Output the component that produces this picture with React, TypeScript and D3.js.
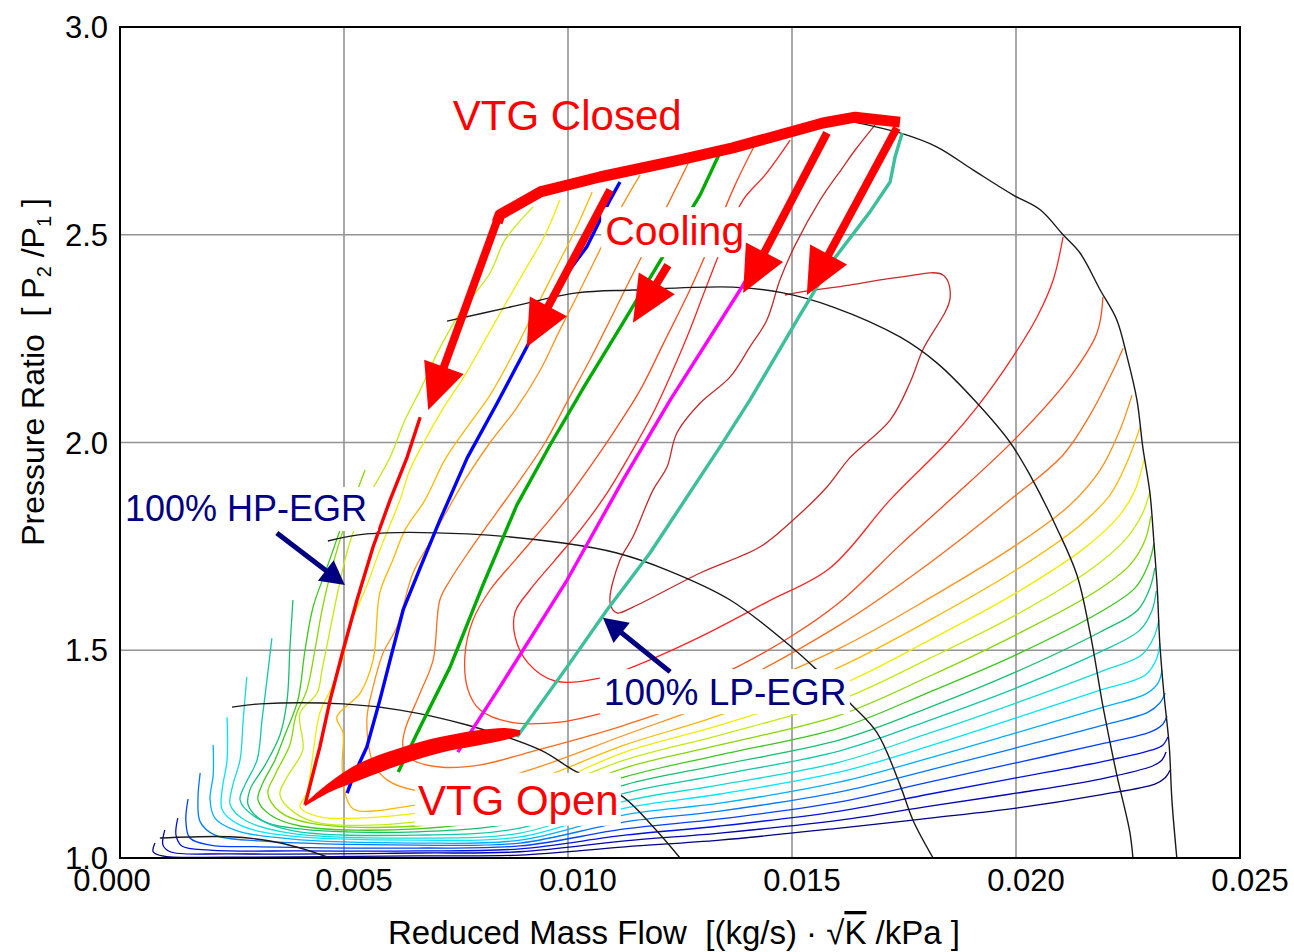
import * as d3 from "d3";

// axis ticks
const X_TICKS = [0, 0.005, 0.01, 0.015, 0.02, 0.025];
const X_LABELS = ["0.000", "0.005", "0.010", "0.015", "0.020", "0.025"];
const Y_TICKS = [1.0, 1.5, 2.0, 2.5, 3.0];
const Y_LABELS = ["1.0", "1.5", "2.0", "2.5", "3.0"];
const X_GRID = [0.005, 0.01, 0.015, 0.02];
const Y_GRID = [1.5, 2.0, 2.5];

// efficiency contours, innermost island first, [mass flow, pressure ratio]
const ETA_01 = [[0.01685,2.764],[0.01641,2.704],[0.01614,2.663],[0.01563,2.584],[0.01507,2.475],[0.01473,2.391],[0.01444,2.295],[0.01406,2.230],[0.01362,2.158],[0.01295,2.095],[0.01243,2.023],[0.01221,1.941],[0.0119,1.886],[0.01145,1.773],[0.01116,1.717],[0.01094,1.614],[0.01109,1.59],[0.01145,1.604],[0.01295,1.686],[0.01429,1.749],[0.01502,1.813],[0.01578,1.893],[0.01629,1.963],[0.01719,2.054],[0.01763,2.143],[0.01792,2.223],[0.01853,2.348],[0.01837,2.403],[0.01741,2.398],[0.01629,2.379],[0.01518,2.362],[0.01484,2.355]];
const ETA_02 = [[0.01496,2.728],[0.0144,2.644],[0.01391,2.584],[0.0135,2.487],[0.01306,2.367],[0.01272,2.271],[0.01234,2.174],[0.0119,2.071],[0.01138,1.97],[0.01087,1.878],[0.01027,1.789],[0.00971,1.717],[0.00915,1.645],[0.00882,1.592],[0.00882,1.532],[0.00911,1.469],[0.00971,1.426],[0.01071,1.433],[0.01183,1.477],[0.01295,1.532],[0.01444,1.616],[0.01585,1.698],[0.01719,1.862],[0.01846,2.0],[0.01913,2.085],[0.01993,2.206],[0.02047,2.302],[0.02083,2.391],[0.02105,2.495]];
const ETA_03 = [[0.01417,2.716],[0.01373,2.62],[0.01321,2.487],[0.01272,2.367],[0.01217,2.247],[0.01161,2.126],[0.01105,2.03],[0.0106,1.958],[0.01004,1.874],[0.00949,1.801],[0.00882,1.717],[0.00826,1.645],[0.00788,1.573],[0.0077,1.489],[0.00777,1.404],[0.00804,1.356],[0.00871,1.327],[0.00982,1.327],[0.01071,1.347],[0.01183,1.38],[0.01339,1.44],[0.01496,1.532],[0.01607,1.616],[0.01741,1.753],[0.01853,1.862],[0.02002,2.013],[0.02121,2.158],[0.02181,2.264],[0.02194,2.35]];
const ETA_04 = [[0.01272,2.68],[0.01228,2.584],[0.01183,2.487],[0.01138,2.391],[0.01094,2.295],[0.01049,2.199],[0.01,2.102],[0.00949,2.0],[0.00893,1.91],[0.00837,1.826],[0.00781,1.741],[0.00737,1.669],[0.00714,1.621],[0.00699,1.477],[0.0067,1.397],[0.00636,1.308],[0.00632,1.267],[0.00654,1.236],[0.00714,1.219],[0.00804,1.224],[0.00915,1.255],[0.01127,1.32],[0.01339,1.404],[0.01607,1.561],[0.01786,1.693],[0.01987,1.862],[0.02105,1.97],[0.02165,2.066],[0.02217,2.174],[0.02239,2.227]];
const ETA_05 = [[0.01161,2.644],[0.01116,2.56],[0.01071,2.463],[0.01027,2.367],[0.00982,2.271],[0.00938,2.174],[0.00882,2.078],[0.00826,2.0],[0.0077,1.91],[0.00725,1.826],[0.00688,1.753],[0.00654,1.686],[0.00618,1.556],[0.00587,1.493],[0.00565,1.412],[0.00551,1.332],[0.00565,1.229],[0.00596,1.188],[0.00654,1.164],[0.00737,1.161],[0.00915,1.212],[0.01127,1.296],[0.01339,1.38],[0.01607,1.505],[0.01808,1.626],[0.02,1.753],[0.02121,1.85],[0.02188,1.934],[0.02232,2.03],[0.02259,2.114]];
const ETA_06 = [[0.01054,2.603],[0.01016,2.511],[0.00971,2.415],[0.00926,2.319],[0.00882,2.223],[0.00826,2.114],[0.0077,2.03],[0.00725,1.958],[0.00681,1.862],[0.00636,1.789],[0.00609,1.717],[0.0058,1.638],[0.00565,1.477],[0.00536,1.397],[0.00484,1.339],[0.00498,1.301],[0.00496,1.219],[0.00507,1.14],[0.00525,1.116],[0.00663,1.128],[0.00893,1.176],[0.01127,1.272],[0.01339,1.344],[0.01607,1.46],[0.01808,1.573],[0.02,1.693],[0.02143,1.801],[0.0221,1.874],[0.0225,1.958],[0.02277,2.037]];
const ETA_07 = [[0.00982,2.584],[0.00949,2.5],[0.00904,2.415],[0.00859,2.331],[0.00815,2.247],[0.0077,2.162],[0.00719,2.078],[0.00681,2.006],[0.00647,1.934],[0.00625,1.862],[0.0058,1.741],[0.00547,1.645],[0.00518,1.573],[0.00496,1.477],[0.00475,1.416],[0.00446,1.349],[0.00429,1.236],[0.00417,1.156],[0.00402,1.123],[0.00446,1.099],[0.00525,1.096],[0.00663,1.108],[0.00893,1.152],[0.01127,1.255],[0.01339,1.32],[0.01607,1.416],[0.01808,1.525],[0.02,1.638],[0.02154,1.747],[0.02232,1.826],[0.02266,1.886],[0.02286,1.96]];
const ETA_08 = [[0.00922,2.567],[0.00859,2.487],[0.00826,2.408],[0.00759,2.312],[0.00708,2.215],[0.0067,2.126],[0.00636,2.054],[0.00603,1.965],[0.00551,1.862],[0.0052,1.782],[0.00502,1.717],[0.00487,1.645],[0.00469,1.549],[0.00451,1.452],[0.0044,1.397],[0.00402,1.349],[0.00408,1.26],[0.00373,1.195],[0.00357,1.152],[0.00391,1.108],[0.00446,1.084],[0.00663,1.087],[0.00893,1.14],[0.01127,1.236],[0.01339,1.296],[0.01607,1.38],[0.01808,1.481],[0.02,1.585],[0.02165,1.693],[0.02243,1.765],[0.02281,1.826],[0.02299,1.883]];
const ETA_09 = [[0.00547,1.934],[0.00518,1.85],[0.00491,1.765],[0.00469,1.681],[0.00451,1.597],[0.00435,1.5],[0.00417,1.404],[0.00393,1.344],[0.00379,1.272],[0.00346,1.2],[0.0033,1.156],[0.00357,1.111],[0.00424,1.084],[0.00663,1.077],[0.00893,1.12],[0.01127,1.217],[0.01339,1.272],[0.01607,1.344],[0.01808,1.438],[0.02,1.537],[0.02176,1.64],[0.02254,1.705],[0.02288,1.765],[0.02301,1.823]];
const ETA_10 = [[0.00491,1.789],[0.0046,1.693],[0.00431,1.604],[0.00413,1.5],[0.00397,1.38],[0.00368,1.296],[0.00346,1.236],[0.00317,1.176],[0.00308,1.14],[0.00335,1.104],[0.00402,1.077],[0.00663,1.07],[0.00893,1.104],[0.01127,1.195],[0.01339,1.248],[0.01607,1.313],[0.01808,1.4],[0.02,1.489],[0.02188,1.592],[0.02266,1.65],[0.02295,1.705],[0.02308,1.758]];
const ETA_11 = [[0.00386,1.621],[0.00379,1.5],[0.00373,1.38],[0.00357,1.296],[0.00324,1.224],[0.0029,1.164],[0.00286,1.128],[0.00317,1.091],[0.00402,1.07],[0.00663,1.063],[0.00893,1.087],[0.01127,1.176],[0.01339,1.224],[0.01607,1.284],[0.01808,1.363],[0.02,1.448],[0.02188,1.544],[0.02272,1.597],[0.02299,1.65],[0.0231,1.698]];
const ETA_12 = [[0.00339,1.529],[0.00328,1.428],[0.00317,1.332],[0.00306,1.236],[0.00279,1.176],[0.00268,1.14],[0.00295,1.104],[0.00379,1.067],[0.00663,1.055],[0.00893,1.072],[0.01127,1.156],[0.01339,1.2],[0.01607,1.258],[0.01808,1.332],[0.02,1.409],[0.02188,1.496],[0.02277,1.549],[0.02304,1.597],[0.02313,1.643]];
const ETA_13 = [[0.00283,1.436],[0.00275,1.332],[0.00268,1.236],[0.00252,1.176],[0.00246,1.128],[0.00279,1.091],[0.00379,1.06],[0.00663,1.048],[0.00893,1.06],[0.01127,1.137],[0.01339,1.176],[0.01607,1.231],[0.01808,1.301],[0.02,1.373],[0.02188,1.448],[0.02281,1.489],[0.02308,1.532],[0.02319,1.573]];
const ETA_14 = [[0.00239,1.339],[0.00239,1.236],[0.00228,1.164],[0.00228,1.116],[0.00268,1.079],[0.00379,1.053],[0.00663,1.043],[0.00893,1.051],[0.01127,1.12],[0.01339,1.154],[0.01607,1.207],[0.01808,1.27],[0.02,1.337],[0.02188,1.404],[0.02288,1.44],[0.02313,1.477],[0.02321,1.517]];
const ETA_15 = [[0.00208,1.272],[0.00208,1.2],[0.00201,1.14],[0.00212,1.096],[0.00257,1.067],[0.00379,1.046],[0.00663,1.036],[0.00893,1.043],[0.01127,1.104],[0.01339,1.132],[0.01607,1.183],[0.01808,1.241],[0.02,1.301],[0.02188,1.361],[0.0229,1.395],[0.02317,1.421],[0.02326,1.452]];
const ETA_16 = [[0.00179,1.205],[0.00174,1.14],[0.00179,1.087],[0.00212,1.055],[0.00313,1.041],[0.00663,1.031],[0.00893,1.036],[0.01127,1.087],[0.01339,1.113],[0.01607,1.159],[0.01808,1.212],[0.02,1.265],[0.02188,1.318],[0.02295,1.351],[0.02321,1.373],[0.02333,1.397]];
const ETA_17 = [[0.00152,1.142],[0.00147,1.091],[0.00156,1.048],[0.00201,1.031],[0.00313,1.027],[0.00663,1.024],[0.00893,1.029],[0.01127,1.07],[0.01339,1.094],[0.01607,1.135],[0.01808,1.183],[0.02,1.229],[0.02188,1.274],[0.02299,1.303],[0.02326,1.32],[0.02337,1.342]];
const ETA_18 = [[0.00129,1.096],[0.00125,1.055],[0.00138,1.029],[0.00201,1.019],[0.00402,1.017],[0.00663,1.017],[0.00893,1.022],[0.01127,1.055],[0.01339,1.077],[0.01607,1.113],[0.01808,1.154],[0.02,1.193],[0.02188,1.231],[0.02304,1.26],[0.02328,1.272],[0.02339,1.291]];
const ETA_19 = [[0.001,1.067],[0.00096,1.031],[0.00112,1.015],[0.00246,1.01],[0.00663,1.012],[0.00893,1.015],[0.01127,1.041],[0.01339,1.06],[0.01607,1.091],[0.01808,1.125],[0.02,1.156],[0.02188,1.19],[0.02306,1.222],[0.02326,1.236],[0.02335,1.255]];
const ETA_20 = [[0.00078,1.036],[0.00074,1.015],[0.00094,1.005],[0.00246,1.002],[0.00663,1.005],[0.00893,1.007],[0.01127,1.027],[0.01339,1.043],[0.01607,1.072],[0.01808,1.096],[0.02,1.12],[0.02188,1.152],[0.0231,1.178],[0.02333,1.193],[0.02344,1.212]];

const ETA_CONTOURS = [ETA_01, ETA_02, ETA_03, ETA_04, ETA_05, ETA_06, ETA_07, ETA_08, ETA_09, ETA_10,
  ETA_11, ETA_12, ETA_13, ETA_14, ETA_15, ETA_16, ETA_17, ETA_18, ETA_19, ETA_20];
const ETA_COLORS = ["#c62a2a", "#ff2424", "#ff4a1e", "#ff6c1c", "#ff921c", "#ffb800", "#f2ec00", "#c0ec10",
  "#88d800", "#3cc81e", "#16c070", "#10c8a8", "#14dcd8", "#00e6ff", "#00b0ff", "#0078ff", "#0040ff",
  "#0010e0", "#0000b4", "#000084"];

// speed lines
const SPEED_1 = [[0.00089,1.048],[0.00246,1.051],[0.00335,1.041],[0.00402,1.024],[0.00469,1.0]];
const SPEED_2 = [[0.0025,1.363],[0.00313,1.371],[0.00498,1.371],[0.00625,1.356],[0.00775,1.32],[0.00938,1.26],[0.01011,1.212],[0.01123,1.147],[0.0119,1.075],[0.0125,1.0]];
const SPEED_3 = [[0.00464,1.763],[0.00551,1.78],[0.00775,1.78],[0.00989,1.758],[0.01109,1.734],[0.01221,1.693],[0.01362,1.621],[0.01502,1.505],[0.01556,1.452],[0.01629,1.373],[0.0169,1.301],[0.01741,1.176],[0.0177,1.091],[0.01815,1.0]];
const SPEED_4 = [[0.0073,2.292],[0.00871,2.326],[0.0102,2.36],[0.01145,2.367],[0.01368,2.374],[0.0148,2.36],[0.01592,2.326],[0.01741,2.254],[0.01824,2.191],[0.01913,2.095],[0.01987,2.0],[0.02031,1.922],[0.02092,1.792],[0.02136,1.681],[0.02165,1.544],[0.02196,1.354],[0.02225,1.2],[0.02254,1.063],[0.02261,1.0]];
const SPEED_5 = [[0.01618,2.776],[0.01741,2.745],[0.01824,2.711],[0.01904,2.656],[0.01993,2.596],[0.02054,2.56],[0.02105,2.5],[0.02143,2.456],[0.02188,2.367],[0.02225,2.295],[0.02248,2.206],[0.0227,2.102],[0.02283,1.989],[0.02299,1.878],[0.02308,1.758],[0.02315,1.655],[0.02321,1.517],[0.0233,1.397],[0.02342,1.27],[0.02348,1.14],[0.02359,1.0]];
const SPEED_LINES = [SPEED_1, SPEED_2, SPEED_3, SPEED_4, SPEED_5];

// operating lines
const OP_HP_EGR = [[0.00413,1.128],[0.00446,1.267],[0.00469,1.38],[0.00498,1.5],[0.00529,1.621],[0.00565,1.749],[0.00603,1.862],[0.00641,1.965],[0.0067,2.061]];
const OP_MIX_1 = [[0.00507,1.156],[0.0052,1.195],[0.00551,1.267],[0.0058,1.38],[0.00603,1.477],[0.00632,1.597],[0.0067,1.698],[0.00714,1.813],[0.00775,1.963],[0.00842,2.095],[0.00908,2.23],[0.00975,2.374],[0.01042,2.471],[0.01094,2.584],[0.01116,2.627]];
const OP_MIX_2 = [[0.00621,1.207],[0.0067,1.315],[0.00737,1.46],[0.0081,1.657],[0.00886,1.85],[0.0096,1.994],[0.01038,2.138],[0.01116,2.276],[0.01183,2.396],[0.0125,2.516],[0.01295,2.596],[0.01344,2.709]];
const OP_MIX_3 = [[0.00754,1.255],[0.00848,1.412],[0.00998,1.669],[0.01123,1.91],[0.01228,2.102],[0.01384,2.367],[0.01489,2.56],[0.01569,2.735]];
const OP_LP_EGR = [[0.00886,1.291],[0.00998,1.46],[0.01087,1.597],[0.01183,1.734],[0.01339,1.989],[0.01406,2.102],[0.01518,2.307],[0.01592,2.439],[0.01674,2.555],[0.01719,2.627],[0.0173,2.687],[0.01746,2.745]];
const OPERATING = [
  { pts: OP_HP_EGR, color: "#ff0000" },
  { pts: OP_MIX_1, color: "#0000ff" },
  { pts: OP_MIX_2, color: "#00aa00" },
  { pts: OP_MIX_3, color: "#ff00ff" },
  { pts: OP_LP_EGR, color: "#3cbf9a" },
];

// VTG sweep annotations
const VTG_CLOSED = [[0.00842,2.53],[0.00848,2.548],[0.00938,2.603],[0.01071,2.639],[0.0125,2.68],[0.01368,2.709],[0.01569,2.769],[0.01641,2.783],[0.01741,2.771]];
const VTG_OPEN_X = [0.00413, 0.00469, 0.00536, 0.00625, 0.00714, 0.00804, 0.00859, 0.00893];
const VTG_OPEN_HI = [1.132, 1.183, 1.229, 1.265, 1.291, 1.308, 1.313, 1.308];
const VTG_OPEN_LO = [1.125, 1.159, 1.188, 1.224, 1.253, 1.272, 1.284, 1.296];

const COOLING_FROM = [[0.00842,2.535],[0.01094,2.608],[0.01223,2.427],[0.01578,2.745],[0.01734,2.757]];
const COOLING_TO = [[0.00688,2.078],[0.00908,2.23],[0.01145,2.288],[0.01391,2.36],[0.01533,2.355]];

const NOTE_FROM = [[0.0035,1.782],[0.01228,1.448]];
const NOTE_TO = [[0.00502,1.657],[0.01078,1.578]];

const LABELS = [
  { text: "VTG Closed", at: [0.00743, 2.752], size: 42, color: "#ff0000", box: null },
  { text: "Cooling", at: [0.01083, 2.475], size: 41, color: "#ff0000", box: [-4, -38, 147, 50] },
  { text: "VTG Open", at: [0.00665, 1.104], size: 42, color: "#ff0000", box: [-3, -42, 206, 53] },
  { text: "100% HP-EGR", at: [0.00011, 1.811], size: 36, color: "#000080", box: [-4, -34, 257, 44] },
  { text: "100% LP-EGR", at: [0.0108, 1.368], size: 37, color: "#000080", box: [-4, -36, 250, 45] },
];

const FONT = "'Liberation Sans', Arial, Helvetica, sans-serif";

export default function App() {
  const width = 1294;
  const height = 952;
  const x = d3.scaleLinear().domain([0, 0.025]).range([120, 1240]);
  const y = d3.scaleLinear().domain([1, 3]).range([858, 27]);

  const smooth = d3
    .line<number[]>()
    .x((d) => x(d[0]))
    .y((d) => y(d[1]))
    .curve(d3.curveCatmullRom.alpha(0.5));
  const straight = d3
    .line<number[]>()
    .x((d) => x(d[0]))
    .y((d) => y(d[1]));

  const wedge = d3
    .area<number>()
    .x((_, i) => x(VTG_OPEN_X[i]))
    .y0((_, i) => y(VTG_OPEN_LO[i]))
    .y1((_, i) => y(VTG_OPEN_HI[i]))
    .curve(d3.curveCatmullRom.alpha(0.5));

  // shaft + filled head, sizes in px
  const arrow = (from: number[], to: number[], color: string, shaft: number, headLen: number, headW: number, key: string) => {
    const x0 = x(from[0]), y0 = y(from[1]);
    const x1 = x(to[0]), y1 = y(to[1]);
    const L = Math.hypot(x1 - x0, y1 - y0);
    const ux = (x1 - x0) / L, uy = (y1 - y0) / L;
    const bx = x1 - ux * headLen, by = y1 - uy * headLen;
    const px = -uy * headW / 2, py = ux * headW / 2;
    return (
      <g key={key}>
        <line x1={x0} y1={y0} x2={bx + ux * 3} y2={by + uy * 3} stroke={color} strokeWidth={shaft} />
        <polygon points={`${x1},${y1} ${bx + px},${by + py} ${bx - px},${by - py}`} fill={color} />
      </g>
    );
  };

  return (
    <svg
      width={width}
      height={height}
      style={{ position: "absolute", left: 0, top: 0, background: "#fff" }}
      fontFamily={FONT}
    >
      <defs>
        <clipPath id="plot">
          <rect x={120} y={27} width={1120} height={831} />
        </clipPath>
      </defs>
      <rect width={width} height={height} fill="#fff" />

      {/* grid */}
      {X_GRID.map((v) => (
        <line key={`gx${v}`} x1={x(v)} x2={x(v)} y1={y(1)} y2={y(3)} stroke="#939393" strokeWidth={1.6} />
      ))}
      {Y_GRID.map((v) => (
        <line key={`gy${v}`} x1={x(0)} x2={x(0.025)} y1={y(v)} y2={y(v)} stroke="#939393" strokeWidth={1.6} />
      ))}

      <g clipPath="url(#plot)" fill="none">
        {ETA_CONTOURS.map((c, i) => (
          <path key={`eta${i}`} d={smooth(c) ?? ""} stroke={ETA_COLORS[i]} strokeWidth={1.3} />
        ))}
        {SPEED_LINES.map((s, i) => (
          <path key={`sp${i}`} d={smooth(s) ?? ""} stroke="#1a1a1a" strokeWidth={1.4} />
        ))}
        {OPERATING.map((o, i) => (
          <path key={`op${i}`} d={straight(o.pts) ?? ""} stroke={o.color} strokeWidth={3.4} strokeLinejoin="round" />
        ))}
      </g>

      {/* label boxes */}
      {LABELS.filter((l) => l.box).map((l) => (
        <rect
          key={`box${l.text}`}
          x={x(l.at[0]) + l.box![0]}
          y={y(l.at[1]) + l.box![1]}
          width={l.box![2]}
          height={l.box![3]}
          fill="#fff"
        />
      ))}

      {/* VTG sweep */}
      <path d={straight(VTG_CLOSED) ?? ""} fill="none" stroke="#ff0000" strokeWidth={11} strokeLinejoin="round" />
      <path d={wedge(VTG_OPEN_X) ?? ""} fill="#ff0000" />
      {COOLING_FROM.map((f, i) => arrow(f, COOLING_TO[i], "#ff0000", 8, 46, 42, `cool${i}`))}
      {NOTE_FROM.map((f, i) => arrow(f, NOTE_TO[i], "#000080", 5, 24, 26, `note${i}`))}

      {LABELS.map((l) => (
        <text key={l.text} x={x(l.at[0])} y={y(l.at[1])} fontSize={l.size} fill={l.color}>
          {l.text}
        </text>
      ))}

      {/* frame */}
      <rect x={120} y={27} width={1120} height={831} fill="none" stroke="#000" strokeWidth={2} />

      {/* ticks */}
      {Y_TICKS.map((v, i) => (
        <text key={`yt${v}`} x={108} y={y(v) + 11} fontSize={31} textAnchor="end" fill="#000">
          {Y_LABELS[i]}
        </text>
      ))}
      {X_TICKS.map((v, i) => (
        <text key={`xt${v}`} x={x(v) + (i === 0 ? -8 : 10)} y={891} fontSize={31} textAnchor="middle" fill="#000">
          {X_LABELS[i]}
        </text>
      ))}

      {/* axis titles */}
      <text x={388} y={944} fontSize={33} fill="#000" style={{ whiteSpace: "pre" }}>
        {"Reduced Mass Flow  [(kg/s) · √"}
        <tspan style={{ textDecoration: "overline" }}>K</tspan>
        {" /kPa ]"}
      </text>
      <text
        transform="translate(44,372) rotate(-90)"
        fontSize={32}
        textAnchor="middle"
        fill="#000"
        style={{ whiteSpace: "pre" }}
      >
        {"Pressure Ratio  [ P"}
        <tspan dy={7} fontSize={20}>2</tspan>
        <tspan dy={-7}>{" /P"}</tspan>
        <tspan dy={7} fontSize={20}>1</tspan>
        <tspan dy={-7}>{" ]"}</tspan>
      </text>
    </svg>
  );
}
